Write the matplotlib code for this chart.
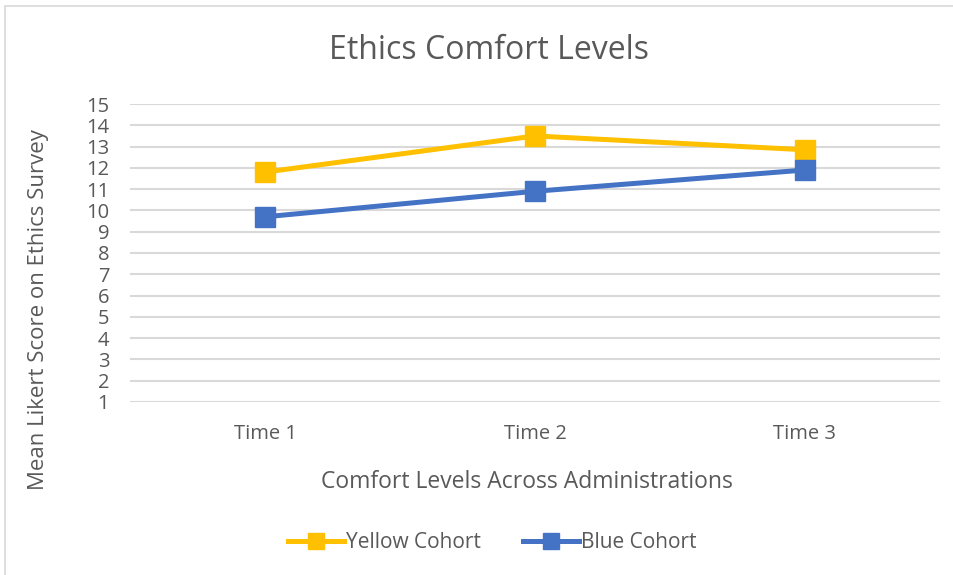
import matplotlib.pyplot as plt
from matplotlib.patches import Rectangle

plt.rcParams['font.family'] = ['Open Sans', 'DejaVu Sans']

categories = ["Time 1", "Time 2", "Time 3"]
yellow_cohort = [11.8, 13.5, 12.85]
blue_cohort = [9.7, 10.9, 11.9]
y_ticks = list(range(1, 16))

text_color = "#595959"
grid_color = "#D9D9D9"

fig = plt.figure(figsize=(9.54, 5.75), dpi=100)
ax = fig.add_axes([0.1363, 0.3009, 0.849, 0.5182])

x = range(len(categories))
ax.plot(x, yellow_cohort, color="#FFC000", lw=3.6, marker="s", ms=15,
        label="Yellow Cohort", zorder=3)
ax.plot(x, blue_cohort, color="#4472C4", lw=3.6, marker="s", ms=15,
        label="Blue Cohort", zorder=4)

ax.set_xlim(-0.5, 2.5)
ax.set_ylim(1, 15)
ax.set_yticks(y_ticks)
ax.set_xticks(list(x))
ax.set_xticklabels(categories)
ax.tick_params(axis="both", length=0, labelsize=14.5, colors=text_color)
ax.tick_params(axis="x", pad=16)
ax.tick_params(axis="y", pad=15)
ax.grid(axis="y", color=grid_color, lw=1.5)
ax.set_axisbelow(True)
for s in ax.spines.values():
    s.set_visible(False)

fig.text(0.5125, 0.913, "Ethics Comfort Levels", ha="center", va="center",
         fontsize=23, color=text_color)
ax.set_ylabel("Mean Likert Score on Ethics Survey", fontsize=16,
              color=text_color)
ax.yaxis.set_label_coords(-0.1, 0.31)
ax.set_xlabel("Comfort Levels Across Administrations", fontsize=16.5,
              color=text_color)
ax.xaxis.set_label_coords(0.49, -0.227)

leg = fig.legend(loc="center", bbox_to_anchor=(0.516, 0.056), ncol=2,
                 frameon=False, fontsize=15, labelcolor=text_color,
                 handlelength=2.7, markerscale=0.75, columnspacing=2.0,
                 handletextpad=0.1)

# chart border
fig.patches.append(Rectangle((5 / 954, -0.05), 1.2, 1 - 6 / 575 + 0.05,
                             transform=fig.transFigure, fill=False,
                             edgecolor=grid_color, lw=1.2))

fig.savefig("out.png", dpi=100)
